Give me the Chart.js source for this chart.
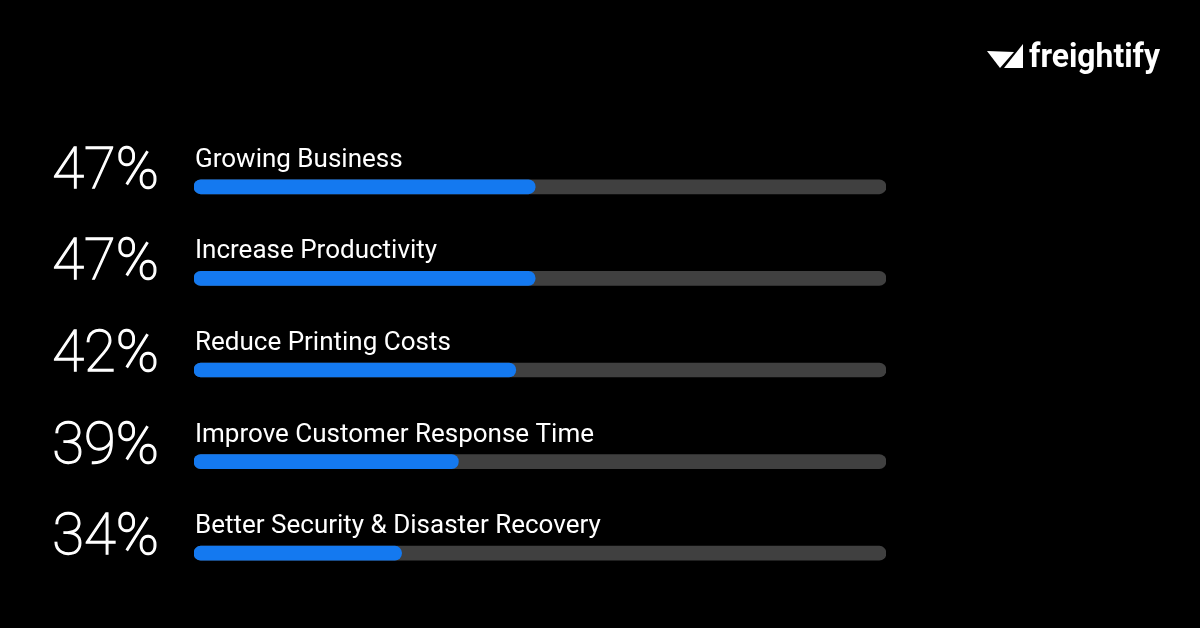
<!DOCTYPE html>
<html>
<head>
<meta charset="utf-8">
<script src="https://cdn.jsdelivr.net/npm/chart.js@4"></script>
<style>
html,body{margin:0;padding:0;background:#000;}
#wrap{width:1200px;height:628px;}
</style>
</head>
<body>
<div id="wrap"><canvas id="c" width="1200" height="628"></canvas></div>
<script>
// ---- data ----
const categories = ['Growing Business','Increase Productivity','Reduce Printing Costs','Improve Customer Response Time','Better Security & Disaster Recovery'];
const percentLabels = ['47%','47%','42%','39%','34%'];
// filled share of each track, as drawn in the picture
const barFill = [49.3, 49.3, 46.5, 38.2, 30.0];
const trackMax = [100, 100, 100, 100, 100];

const labelsPlugin = {
  id: 'labels',
  afterDatasetsDraw(chart) {
    const ctx = chart.ctx;
    const y = chart.scales.y;
    const x = chart.scales.x;
    ctx.save();
    ctx.fillStyle = '#ffffff';
    ctx.strokeStyle = '#ffffff';
    categories.forEach((cat, i) => {
      const cy = y.getPixelForValue(i);
      ctx.font = '400 26px Roboto';
      ctx.textAlign = 'left';
      ctx.textBaseline = 'alphabetic';
      ctx.fillText(cat, x.left + 1, cy - 20);
      ctx.font = '100 58px Roboto';
      ctx.textAlign = 'right';
      ctx.lineWidth = 1.3;
      ctx.fillText(percentLabels[i], 159, cy + 1);
      ctx.strokeText(percentLabels[i], 159, cy + 1);
    });
    // logo
    ctx.fillStyle = '#ffffff';
    ctx.beginPath();
    ctx.moveTo(987, 51); ctx.lineTo(1014, 52); ctx.lineTo(1000, 68); ctx.closePath(); ctx.fill();
    ctx.beginPath();
    ctx.moveTo(1023, 44); ctx.lineTo(1023, 68); ctx.lineTo(1004, 68); ctx.closePath(); ctx.fill();
    ctx.font = '700 34px Roboto';
    ctx.textAlign = 'left';
    const w = ctx.measureText('freightify').width;
    ctx.save();
    ctx.translate(1029, 67);
    ctx.scale(131 / w, 1);
    ctx.fillText('freightify', 0, 0);
    ctx.restore();
    ctx.restore();
  }
};

new Chart(document.getElementById('c'), {
  type: 'bar',
  data: {
    labels: categories,
    datasets: [
      { data: barFill, backgroundColor: '#1479f0', borderRadius: 8, borderSkipped: false, barThickness: 14, order: 0 },
      { data: trackMax, backgroundColor: '#404040', borderRadius: 8, borderSkipped: false, barThickness: 14, order: 1 }
    ]
  },
  options: {
    indexAxis: 'y',
    responsive: false,
    animation: false,
    layout: { padding: { left: 194, right: 314, top: 141, bottom: 29 } },
    plugins: { legend: { display: false }, tooltip: { enabled: false } },
    datasets: { bar: { grouped: false } },
    scales: {
      x: { display: false, min: 0, max: 100 },
      y: { display: false, offset: true, grid: { display: false } }
    }
  },
  plugins: [labelsPlugin]
});
</script>
</body>
</html>
